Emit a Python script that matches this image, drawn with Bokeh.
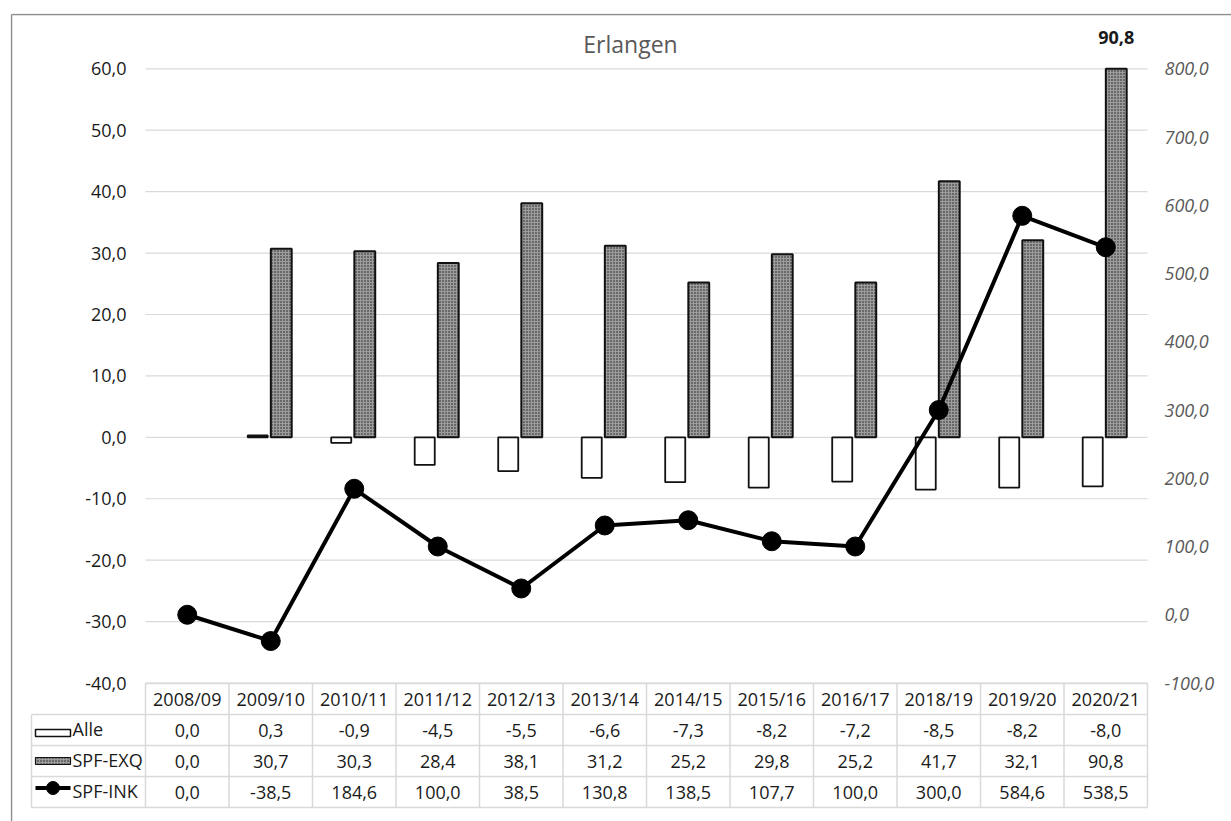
from bokeh.plotting import figure
from bokeh.models import (Range1d, LinearAxis, FixedTicker, CustomJSTickFormatter,
                          ColumnDataSource)
from bokeh.core.properties import value
from bokeh.embed import file_html
from bokeh.resources import INLINE
import numpy as np

# ---- data -------------------------------------------------------------
title_text = "Erlangen"
seasons = ["2008/09", "2009/10", "2010/11", "2011/12", "2012/13", "2013/14",
           "2014/15", "2015/16", "2016/17", "2018/19", "2019/20", "2020/21"]
alle = [0.0, 0.3, -0.9, -4.5, -5.5, -6.6, -7.3, -8.2, -7.2, -8.5, -8.2, -8.0]
spf_exq = [0.0, 30.7, 30.3, 28.4, 38.1, 31.2, 25.2, 29.8, 25.2, 41.7, 32.1, 90.8]
spf_ink = [0.0, -38.5, 184.6, 100.0, 38.5, 130.8, 138.5, 107.7, 100.0, 300.0, 584.6, 538.5]
series_names = ["Alle", "SPF-EXQ", "SPF-INK"]
left_ticks = [-40, -30, -20, -10, 0, 10, 20, 30, 40, 50, 60]
right_ticks = [-100, 0, 100, 200, 300, 400, 500, 600, 700, 800]

# ---- layout (pixels) ----------------------------------------------------
W, H = 1231, 821
FRAME_L, FRAME_T = 10, 13
PLOT_L, CAT_W = 145.0, 83.5          # left edge of first category slot, slot width
Y_TOP_PX, Y_BOT_PX = 68.3, 682.5     # pixel rows of the first and last left tick
Y_MIN, Y_MAX = left_ticks[0], left_ticks[-1]
R_MIN, R_MAX = right_ticks[0], right_ticks[-1]
PX_PER_UNIT = (Y_BOT_PX - Y_TOP_PX) / (Y_MAX - Y_MIN)
ZERO_PY = Y_BOT_PX + Y_MIN * PX_PER_UNIT

def xd(px):
    return (px - PLOT_L) / CAT_W - 0.5

def yd(py):
    return (ZERO_PY - py) / PX_PER_UNIT

def to_right(v):
    return R_MIN + (v - Y_MIN) * (R_MAX - R_MIN) / (Y_MAX - Y_MIN)

x_range = Range1d(xd(FRAME_L), xd(W))
y_range = Range1d(yd(H), yd(FRAME_T))

FONT = "Open Sans"
GRID_COL = "#d9d9d9"
TXT_COL = "#1a1a1a"
EXQ_FILL = "#9c9c9c"

p = figure(width=W, height=H, x_range=x_range, y_range=y_range,
           output_backend="svg", toolbar_location=None, x_axis_location=None,
           min_border_left=FRAME_L, min_border_top=FRAME_T,
           min_border_right=0, min_border_bottom=0,
           outline_line_color=None, background_fill_color="white",
           border_fill_color="white")
p.xgrid.visible = False
p.ygrid.visible = False

p.extra_y_ranges = {"ink": Range1d(to_right(y_range.start), to_right(y_range.end))}

fmt = CustomJSTickFormatter(code="return tick.toFixed(1).replace('.', ',');")

# left axis, labels pulled into the drawing area
ax = p.yaxis[0]
ax.ticker = FixedTicker(ticks=left_ticks)
ax.formatter = fmt
ax.axis_line_color = None
ax.major_tick_line_color = None
ax.minor_tick_line_color = None
ax.major_tick_out = 0
ax.major_label_standoff = -int(126 - FRAME_L)
ax.major_label_text_font = FONT
ax.major_label_text_font_size = "18px"
ax.major_label_text_color = TXT_COL

rax = LinearAxis(y_range_name="ink", ticker=FixedTicker(ticks=right_ticks),
                 formatter=fmt, axis_line_color=None, major_tick_line_color=None,
                 minor_tick_line_color=None, major_tick_out=0,
                 major_label_standoff=-int(W - 1164),
                 major_label_text_font=FONT, major_label_text_font_size="18px",
                 major_label_text_font_style="italic",
                 major_label_text_color="#595959")
p.add_layout(rax, "right")

n = len(seasons)
idx = np.arange(n)

# ---- outer frame lines --------------------------------------------------
p.segment(x0=[xd(11), xd(11)], y0=[yd(H), yd(14)], x1=[xd(11), xd(W)], y1=[yd(14), yd(14)],
          line_color="#8c8c8c", line_width=1.5)

# ---- horizontal gridlines -----------------------------------------------
p.segment(x0=[-0.5] * len(left_ticks), x1=[n - 0.5] * len(left_ticks),
          y0=left_ticks, y1=left_ticks, line_color=GRID_COL, line_width=1.2)

# ---- bars ---------------------------------------------------------------
alle_arr = np.array(alle)
exq_arr = np.array(spf_exq)
bar_src = ColumnDataSource(dict(
    xa=idx - 0.156, ta=alle_arr, la=np.where(alle_arr == 0, 0.0, 1.0),
    xe=idx + 0.126, te=np.minimum(exq_arr, Y_MAX), le=np.where(exq_arr == 0, 0.0, 1.0),
))
p.vbar(x="xa", top="ta", bottom=0, width=0.24, source=bar_src,
       fill_color="white", line_color="#111111", line_width=1.8, line_alpha="la")
p.vbar(x="xe", top="te", bottom=0, width=0.25, source=bar_src,
       fill_color=EXQ_FILL, hatch_pattern="dot", hatch_color="#1a1a1a",
       hatch_scale=3, hatch_weight=1,
       line_color="#111111", line_width=2, line_alpha="le", fill_alpha="le",
       hatch_alpha="le")

# label for the bar that runs past the axis maximum
over = [i for i in range(n) if spf_exq[i] > Y_MAX]
p.text(x=[i + 0.126 for i in over], y=[Y_MAX] * len(over),
       text=[f"{spf_exq[i]:.1f}".replace(".", ",") for i in over],
       text_font=value(FONT), text_font_size="18px", text_font_style="bold",
       text_color=TXT_COL, text_align="center", text_baseline="middle", y_offset=-31)

# ---- line on the secondary axis ------------------------------------------
p.line(x=idx, y=spf_ink, y_range_name="ink", line_color="black", line_width=4)
p.scatter(x=idx, y=spf_ink, y_range_name="ink", size=19, marker="circle",
          fill_color="black", line_color="black")

# ---- title ----------------------------------------------------------------
p.text(x=[xd(630)], y=[yd(43)], text=[title_text], text_font=value(FONT),
       text_font_size="23px", text_color="#595959", text_align="center",
       text_baseline="middle")

# ---- data table -----------------------------------------------------------
TBL_TOP, ROW_PX = 683.0, 31.0
TBL_L = 31.0
row_lines_px = [TBL_TOP + k * ROW_PX for k in range(5)]
col_lines_px = [PLOT_L + k * CAT_W for k in range(n + 1)]
hx0 = [xd(PLOT_L)] + [xd(TBL_L)] * 4
hx1 = [xd(col_lines_px[-1])] * 5
hy = [yd(v) for v in row_lines_px]
p.segment(x0=hx0, x1=hx1, y0=hy, y1=hy, line_color=GRID_COL, line_width=1.5)
vx = [xd(TBL_L)] + [xd(c) for c in col_lines_px]
vy0 = [yd(row_lines_px[1])] + [yd(row_lines_px[0])] * len(col_lines_px)
vy1 = [yd(row_lines_px[-1])] * len(vx)
p.segment(x0=vx, x1=vx, y0=vy0, y1=vy1, line_color=GRID_COL, line_width=1.5)

row_c = [yd(TBL_TOP + (k + 0.5) * ROW_PX) for k in range(4)]

# header row
p.text(x=idx, y=[row_c[0]] * n, text=seasons, text_font=value(FONT),
       text_font_size="18px", text_color=TXT_COL, text_align="center",
       text_baseline="middle")

# value rows
def fmt1(v):
    return f"{v:.1f}".replace(".", ",")

for r, vals in enumerate([alle, spf_exq, spf_ink]):
    p.text(x=idx, y=[row_c[r + 1]] * n, text=[fmt1(v) for v in vals],
           text_font=value(FONT), text_font_size="18px", text_color=TXT_COL,
           text_align="center", text_baseline="middle")

# series names with their keys
p.text(x=[xd(72)] * 3, y=[c + 1 / PX_PER_UNIT for c in row_c[1:]], text=series_names,
       text_font=value(FONT), text_font_size="18px", text_color=TXT_COL,
       text_align="left", text_baseline="middle")
key_l, key_r = xd(35), xd(70)
key_h = 7 / PX_PER_UNIT
p.quad(left=[key_l], right=[key_r], bottom=[row_c[1] - 3 / PX_PER_UNIT - key_h / 2],
       top=[row_c[1] - 3 / PX_PER_UNIT + key_h / 2],
       fill_color="white", line_color="#111111", line_width=1.5)
p.quad(left=[key_l], right=[key_r], bottom=[row_c[2] - key_h / 2], top=[row_c[2] + key_h / 2],
       fill_color=EXQ_FILL, hatch_pattern="dot", hatch_color="#1a1a1a",
       hatch_scale=3, hatch_weight=1, line_color="#111111", line_width=1.2)
ky = row_c[3] + 4 / PX_PER_UNIT
p.line(x=[key_l, key_r], y=[ky, ky], line_color="black", line_width=4)
p.scatter(x=[(key_l + key_r) / 2], y=[ky], size=13, marker="circle",
          fill_color="black", line_color="black")

open("out.html", "w").write(file_html(p, INLINE))
